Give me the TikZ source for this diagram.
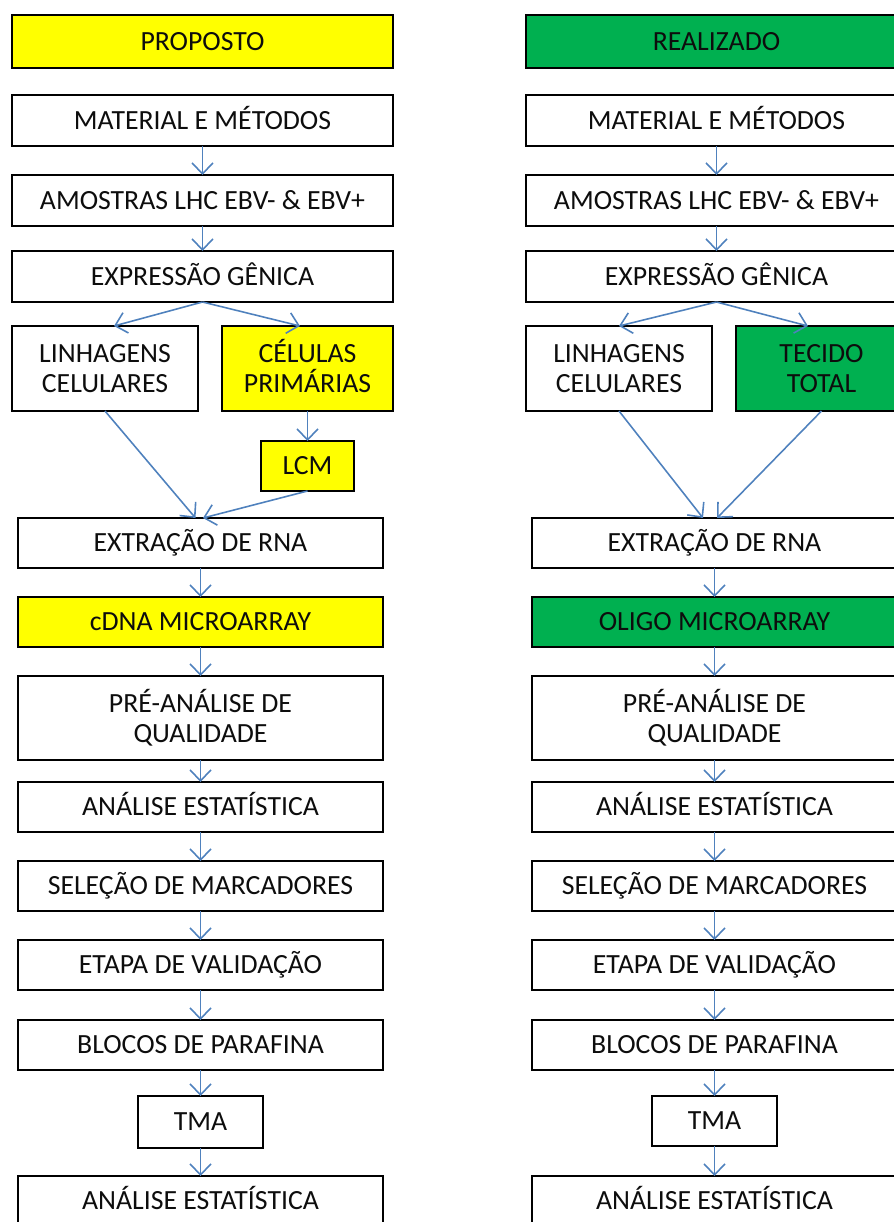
\documentclass[tikz,border=0pt]{standalone}
\usepackage{fontspec}
\setmainfont{Carlito}
\usepackage{tikz}
\usetikzlibrary{arrows.meta,positioning}
\usepackage{xcolor}
\definecolor{propyellow}{RGB}{255,255,0}
\definecolor{realgreen}{RGB}{0,176,80}
\definecolor{arrowblue}{RGB}{79,129,189}

\begin{document}
\begin{tikzpicture}[
    node distance=0.56cm,
    box/.style={rectangle, draw=black, line width=0.9pt, fill=white, inner sep=0pt, outer sep=0pt, align=center, text=black!95, font=\fontsize{15.8}{17}\selectfont},
    oneline/.style={box, text height=11pt, text depth=1pt},
    titlebox/.style={oneline, minimum width=7.62cm, minimum height=1.06cm},
    wide/.style={oneline, minimum width=7.62cm, minimum height=1.02cm},
    stage/.style={oneline, minimum width=7.3cm, minimum height=1.0cm},
    twoline/.style={box, minimum width=7.3cm, minimum height=1.68cm},
    branch/.style={box, text height=27pt, minimum height=1.7cm},
    flow/.style={draw=arrowblue, line width=0.9pt, -{Straight Barb[length=2.2mm,width=4.2mm]}}
]
    \useasboundingbox (0,0) rectangle (17.88,-24.44);

    % proposto
    \node[titlebox, fill=propyellow] (prop) at (4.05,-0.83) {PROPOSTO};
    \node[wide, below=0.54cm of prop] (mat) {MATERIAL E MÉTODOS};
    \node[wide, below=0.58cm of mat] (amo) {AMOSTRAS LHC EBV- \& EBV+};
    \node[wide, below=0.5cm of amo] (exp) {EXPRESSÃO GÊNICA};
    \node[branch, minimum width=3.72cm, below=0.48cm of exp.south west, anchor=north west] (lin) {LINHAGENS\\CELULARES};
    \node[branch, minimum width=3.42cm, fill=propyellow, below=0.48cm of exp.south east, anchor=north east] (cel) {CÉLULAS\\PRIMÁRIAS};
    \node[oneline, minimum width=1.86cm, minimum height=1.0cm, fill=propyellow, below=0.6cm of cel] (lcm) {LCM};
    \node[stage, anchor=north] (ext) at (4.01,-10.36) {EXTRAÇÃO DE RNA};
    \node[stage, fill=propyellow, below=0.58cm of ext] (cdna) {cDNA MICROARRAY};
    \node[twoline, below=0.58cm of cdna] (pre) {PRÉ-ANÁLISE DE\\QUALIDADE};
    \node[stage, below=0.44cm of pre] (ana) {ANÁLISE ESTATÍSTICA};
    \node[stage, below=0.58cm of ana] (sel) {SELEÇÃO DE MARCADORES};
    \node[stage, below=0.58cm of sel] (eta) {ETAPA DE VALIDAÇÃO};
    \node[stage, below=0.6cm of eta] (blo) {BLOCOS DE PARAFINA};
    \node[oneline, minimum width=2.5cm, minimum height=1.04cm, below=0.52cm of blo] (tma) {TMA};
    \node[stage, below=0.56cm of tma] (fin) {ANÁLISE ESTATÍSTICA};

    \draw[flow] (mat) -- (amo);
    \draw[flow] (amo) -- (exp);
    \draw[flow] (exp.south) -- ([xshift=0.18cm]lin.north);
    \draw[flow] (exp.south) -- ([xshift=-0.15cm]cel.north);
    \draw[flow] (cel) -- (lcm);
    \draw[flow] (lin.south) -- ([xshift=-0.1cm]ext.north);
    \draw[flow] (lcm.south) -- ([xshift=0.05cm]ext.north);
    \draw[flow] (ext) -- (cdna);
    \draw[flow] (cdna) -- (pre);
    \draw[flow] (pre) -- (ana);
    \draw[flow] (ana) -- (sel);
    \draw[flow] (sel) -- (eta);
    \draw[flow] (eta) -- (blo);
    \draw[flow] (blo) -- (tma);
    \draw[flow] (tma) -- (fin);

    % realizado
    \begin{scope}[xshift=10.28cm]
    \node[titlebox, fill=realgreen] (rprop) at (4.05,-0.83) {REALIZADO};
    \node[wide, below=0.54cm of rprop] (rmat) {MATERIAL E MÉTODOS};
    \node[wide, below=0.58cm of rmat] (ramo) {AMOSTRAS LHC EBV- \& EBV+};
    \node[wide, below=0.5cm of ramo] (rexp) {EXPRESSÃO GÊNICA};
    \node[branch, minimum width=3.72cm, below=0.48cm of rexp.south west, anchor=north west] (rlin) {LINHAGENS\\CELULARES};
    \node[branch, minimum width=3.42cm, fill=realgreen, below=0.48cm of rexp.south east, anchor=north east] (rtec) {TECIDO\\TOTAL};
    \node[stage, anchor=north] (rext) at (4.01,-10.36) {EXTRAÇÃO DE RNA};
    \node[stage, fill=realgreen, below=0.58cm of rext] (roligo) {OLIGO MICROARRAY};
    \node[twoline, below=0.58cm of roligo] (rpre) {PRÉ-ANÁLISE DE\\QUALIDADE};
    \node[stage, below=0.44cm of rpre] (rana) {ANÁLISE ESTATÍSTICA};
    \node[stage, below=0.58cm of rana] (rsel) {SELEÇÃO DE MARCADORES};
    \node[stage, below=0.58cm of rsel] (reta) {ETAPA DE VALIDAÇÃO};
    \node[stage, below=0.6cm of reta] (rblo) {BLOCOS DE PARAFINA};
    \node[oneline, minimum width=2.5cm, minimum height=1.0cm, below=0.52cm of rblo] (rtma) {TMA};
    \node[stage, below=0.6cm of rtma] (rfin) {ANÁLISE ESTATÍSTICA};
    \end{scope}

    \draw[flow] (rmat) -- (ramo);
    \draw[flow] (ramo) -- (rexp);
    \draw[flow] (rexp.south) -- (rlin.north);
    \draw[flow] (rexp.south) -- ([xshift=-0.27cm]rtec.north);
    \draw[flow] (rlin.south) -- ([xshift=-0.23cm]rext.north);
    \draw[flow] (rtec.south) -- ([xshift=0.05cm]rext.north);
    \draw[flow] (rext) -- (roligo);
    \draw[flow] (roligo) -- (rpre);
    \draw[flow] (rpre) -- (rana);
    \draw[flow] (rana) -- (rsel);
    \draw[flow] (rsel) -- (reta);
    \draw[flow] (reta) -- (rblo);
    \draw[flow] (rblo) -- (rtma);
    \draw[flow] (rtma) -- (rfin);
\end{tikzpicture}
\end{document}
